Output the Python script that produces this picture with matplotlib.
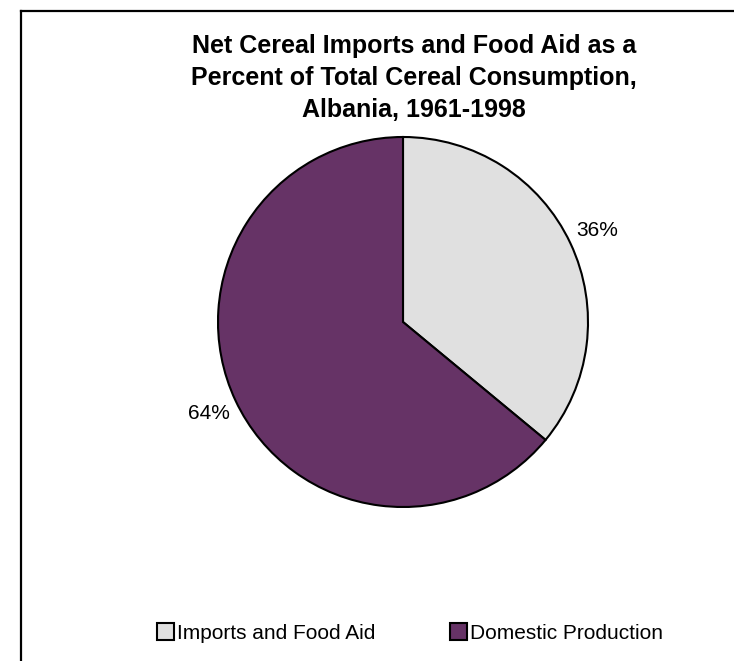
import matplotlib
matplotlib.use("Agg")
import matplotlib.pyplot as plt
from matplotlib.lines import Line2D

plt.rcParams["font.family"] = ["Liberation Sans", "DejaVu Sans"]

labels = ["Imports and Food Aid", "Domestic Production"]
shares = [36, 64]
colors = ["#e0e0e0", "#663366"]

fig = plt.figure(figsize=(7.34, 6.61), dpi=100)

# pie axes: centre (403, 322) px, radius 185 px
ax = fig.add_axes([(403 - 185) / 734, (661 - 507) / 661, 370 / 734, 370 / 661])
wedges, texts, autotexts = ax.pie(
    shares, colors=colors, startangle=90, counterclock=False,
    autopct="%1.0f%%", pctdistance=1.16,
    wedgeprops=dict(edgecolor="black", linewidth=1.5),
    textprops=dict(fontsize=15, color="black"),
)
ax.set_xlim(-1, 1)
ax.set_ylim(-1, 1)
ax.set_aspect("equal")
ax.axis("off")

fig.text(414 / 734, 1 - 78 / 661,
         "Net Cereal Imports and Food Aid as a\nPercent of Total Cereal Consumption,\nAlbania, 1961-1998",
         ha="center", va="center", fontsize=18, fontweight="bold", linespacing=1.42)

fig.legend(wedges, labels, loc="center", bbox_to_anchor=(410 / 734, 1 - 633 / 661),
           ncol=2, frameon=False, fontsize=15, handlelength=0.82, handleheight=0.82,
           handletextpad=0.15, columnspacing=3.6, borderpad=0, borderaxespad=0)

# chart border (runs off the right and bottom edges)
fig.add_artist(Line2D([20.5 / 734, 20.5 / 734], [0, 1 - 10.5 / 661], color="black", lw=1.6))
fig.add_artist(Line2D([20.5 / 734, 1], [1 - 10.5 / 661, 1 - 10.5 / 661], color="black", lw=1.6))

fig.savefig("out.png", dpi=100)
